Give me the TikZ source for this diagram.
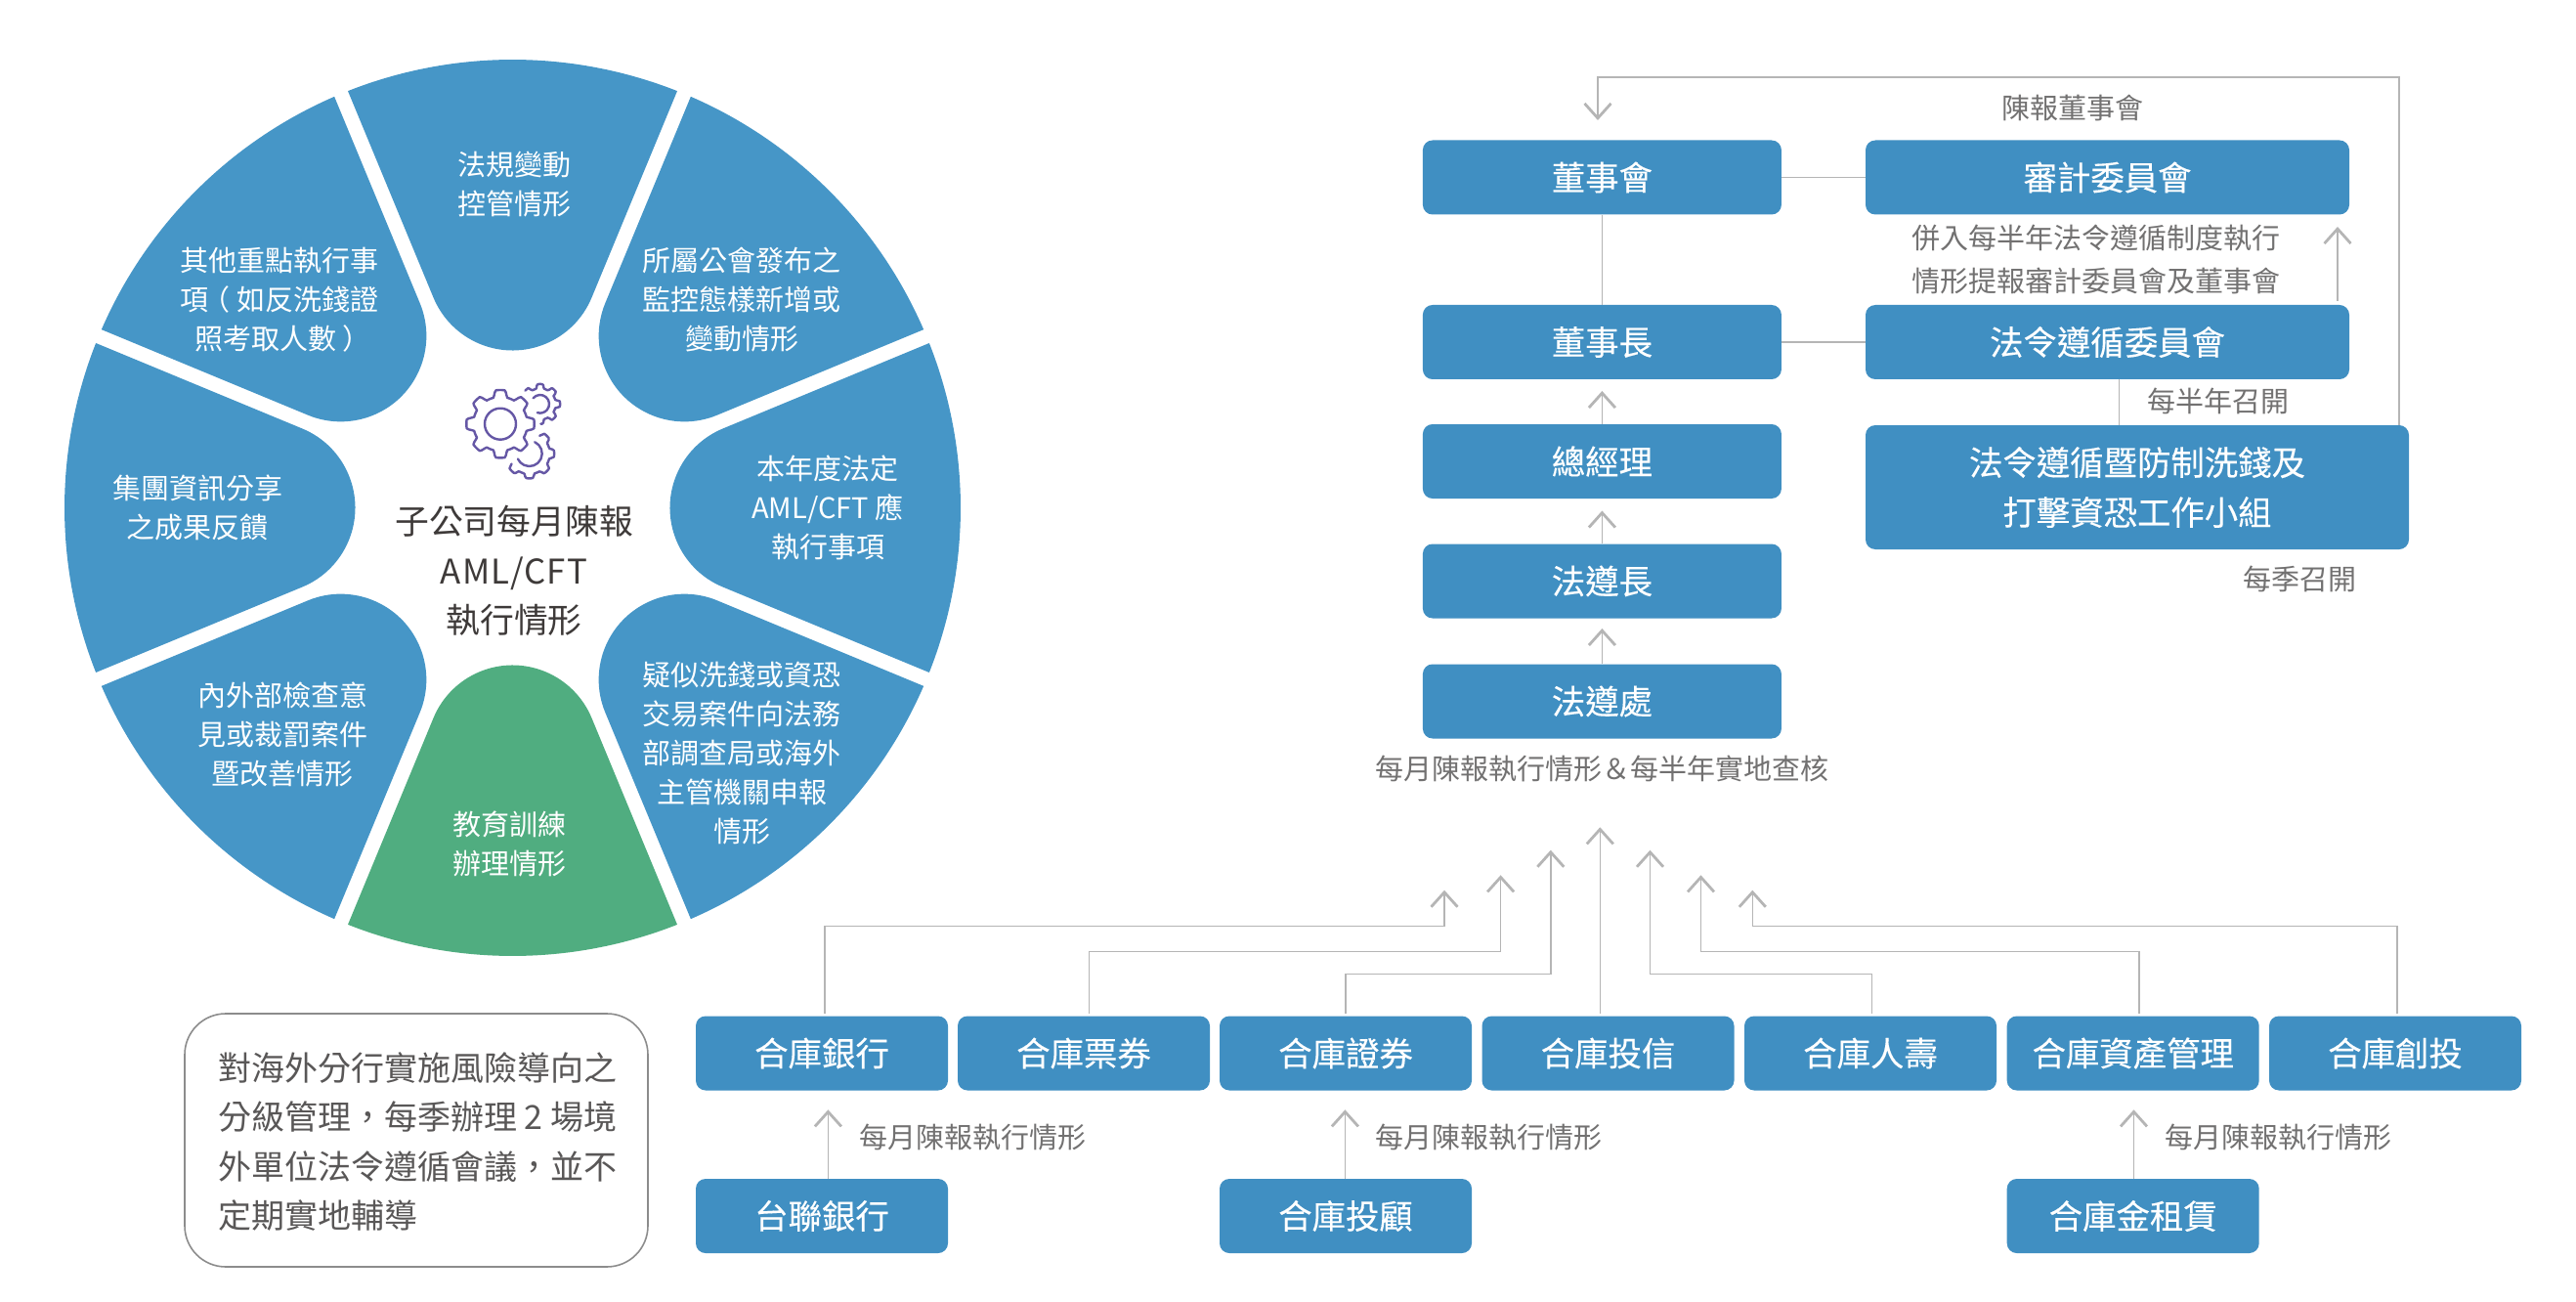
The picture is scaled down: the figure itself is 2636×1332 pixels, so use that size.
\documentclass[tikz,border=0pt]{standalone}
\usepackage{fontspec}
\setmainfont{Noto Sans CJK TC}
\newfontfamily\boxfont[FakeBold=0.2]{Noto Sans CJK TC}
\usetikzlibrary{arrows.meta}
\definecolor{boxblue}{HTML}{408FC2}
\definecolor{petalblue}{HTML}{4696C7}
\definecolor{petalgreen}{HTML}{50AD80}
\definecolor{linegray}{HTML}{B5B5B5}
\definecolor{labelgray}{HTML}{727171}
\definecolor{darktext}{HTML}{3E3A39}
\definecolor{notetext}{HTML}{595757}
\definecolor{notegray}{HTML}{8C8C8C}
\definecolor{gearpurple}{HTML}{6557A5}
\tikzset{
  bluebox/.style={fill=boxblue, rounded corners=5pt, inner sep=0pt, text=white, align=center,
    minimum height=38pt, font=\boxfont\fontsize{17.2}{25.5}\selectfont},
  narrowbox/.style={bluebox, minimum width=129pt},
  mainbox/.style={bluebox, minimum width=183.5pt},
  sidebox/.style={bluebox, minimum width=247.5pt},
  petaltext/.style={text=white, align=center, inner sep=0pt, font=\fontsize{14.5}{20}\selectfont},
  graylabel/.style={text=labelgray, align=center, inner sep=0pt, font=\fontsize{14.5}{22}\selectfont},
  conn/.style={draw=linegray, line width=0.8pt},
  arr/.style={conn, -{Straight Barb[length=7.5pt,width=13.5pt,line width=1.4pt]}},
  gearline/.style={draw=gearpurple, line width=1.2pt, line join=round, line cap=round}
}
\begin{document}
\begin{tikzpicture}[x=0.5pt,y=-0.5pt]
\useasboundingbox (0,0) rectangle (2636,1332);

% wheel petals
\begin{scope}[shift={(524.5,519.5)},y=0.5pt]
  \foreach \a/\c in {0/petalblue,45/petalblue,90/petalblue,135/petalblue,180/petalblue,225/petalblue,270/petalgreen,315/petalblue}{
    \fill[\c,rotate=\a] (21.563:458.5) arc[start angle=21.563,end angle=-21.563,radius=458.5]
      -- (215.14,-81.02) arc[start angle=247.5,end angle=112.5,radius=87.7] -- cycle;
  }
\end{scope}

% petal labels
\node[petaltext] (p1) at (526,188.3) {法規變動\\控管情形};
\node[petaltext] (p2) at (759.4,306.4) {所屬公會發布之\\監控態樣新增或\\變動情形};
\node[petaltext] (p3) at (847,519.5) {本年度法定\\AML/CFT 應\\執行事項};
\node[petaltext] (p4) at (759.4,771) {疑似洗錢或資恐\\交易案件向法務\\部調查局或海外\\主管機關申報\\情形};
\node[petaltext] (p5) at (521.3,863) {教育訓練\\辦理情形};
\node[petaltext] (p6) at (289,751.5) {內外部檢查意\\見或裁罰案件\\暨改善情形};
\node[petaltext] (p7) at (202,519) {集團資訊分享\\之成果反饋};
\node[petaltext] (p8) at (286,307) {其他重點執行事\\項\kern-3.5pt（\kern3.5pt如反洗錢證\\照考取人數\kern3.5pt）\kern-3.5pt};
\node[text=darktext, align=center, inner sep=0pt, font=\fontsize{17.4}{25.4}\selectfont] (center) at (526,584) {子公司每月陳報\\{\addfontfeature{LetterSpace=3}AML/CFT}\\執行情形};

% gears
\begin{scope}[shift={(512,433.7)},y=0.5pt]
  \draw[gearline] plot[samples=145,domain=0:360] (\x:{31.2+3.5*max(-1,min(1,2.5*cos(8*\x)))}) -- cycle;
  \draw[gearline] (0,0) circle[radius=16];
\end{scope}
\begin{scope}[shift={(552.7,413.3)},y=0.5pt]
  \draw[gearline] plot[samples=60,domain=138:-88] (\x:{18.2+2.2*max(-1,min(1,2.5*cos(8*\x)))});
  \draw[gearline] (140:9.3) arc[start angle=140,end angle=-108,radius=9.3];
\end{scope}
\begin{scope}[shift={(541.7,464)},y=0.5pt]
  \draw[gearline] plot[samples=60,domain=60:-150] (\x:{23.2+2.2*max(-1,min(1,2.5*cos(8*\x)))});
  \draw[gearline] (65:13) arc[start angle=65,end angle=-155,radius=13];
\end{scope}

% governance boxes
\node[mainbox] (board) at (1639.4,181.5) {董事會};
\node[mainbox] (chair) at (1639.4,350) {董事長};
\node[mainbox] (gm) at (1639.4,472) {總經理};
\node[mainbox] (cco) at (1639.4,594.5) {法遵長};
\node[mainbox] (dept) at (1639.4,717.5) {法遵處};
\node[sidebox] (audit) at (2156.5,181.5) {審計委員會};
\node[sidebox] (comm) at (2156.5,350) {法令遵循委員會};
\node[bluebox, minimum width=278pt, minimum height=63.5pt] (group) at (2187,498.5) {法令遵循暨防制洗錢及\\打擊資恐工作小組};

% governance connectors
\coordinate (tipChair) at (1639.4,400);
\coordinate (tipGm) at (1639.4,522.5);
\coordinate (tipCco) at (1639.4,643);
\coordinate (tipAudit) at (2392,232);
\coordinate (joinGroup) at (2168.6,410);
\coordinate (fbRight) at (2455,79);
\coordinate (fbLeft) at (1635,79);
\coordinate (tipBoard) at (1635,123);
\draw[conn] (board.east) -- (audit.west);
\draw[conn] (chair.east) -- (comm.west);
\draw[conn] (board.south) -- (chair.north);
\draw[arr] (gm.north) -- (tipChair);
\draw[arr] (cco.north) -- (tipGm);
\draw[arr] (dept.north) -- (tipCco);
\draw[arr, shorten <=2pt] (comm.north -| tipAudit) -- (tipAudit);
\draw[conn] (comm.south -| joinGroup) -- (group.north -| joinGroup);
\draw[arr] (group.north -| fbRight) -- (fbRight) -- (fbLeft) -- (tipBoard);

% governance labels
\node[graylabel] (l1) at (2121,110) {陳報董事會};
\node[graylabel] (l2) at (2145,266) {併入每半年法令遵循制度執行\\情形提報審計委員會及董事會};
\node[graylabel] (l3) at (2270,410) {每半年召開};
\node[graylabel] (l4) at (2353,592) {每季召開};
\node[graylabel] (l5) at (1639,787) {每月陳報執行情形＆每半年實地查核};

% subsidiaries
\node[narrowbox] (bank) at (841,1077.5) {合庫銀行};
\node[narrowbox] (bills) at (1109,1077.5) {合庫票券};
\node[narrowbox] (sec) at (1377,1077.5) {合庫證券};
\node[narrowbox] (fund) at (1645.5,1077.5) {合庫投信};
\node[narrowbox] (life) at (1914,1077.5) {合庫人壽};
\node[narrowbox] (asset) at (2182.7,1077.5) {合庫資產管理};
\node[narrowbox] (vc) at (2451,1077.5) {合庫創投};
\node[narrowbox] (taiwan) at (841,1244) {台聯銀行};
\node[narrowbox] (advisor) at (1377,1244) {合庫投顧};
\node[narrowbox] (lease) at (2182.7,1244) {合庫金租賃};

% subsidiary connectors
\coordinate (bendA) at (1478,947.3);   \coordinate (tipA) at (1478,910.7);
\coordinate (bendB) at (1535.6,973.3); \coordinate (tipB) at (1535.6,895.3);
\coordinate (bendC) at (1586.8,996.3); \coordinate (tipC) at (1586.8,869.7);
\coordinate (tipD) at (1637.3,846.3);
\coordinate (bendE) at (1688.5,996.3); \coordinate (tipE) at (1688.5,869.7);
\coordinate (bendF) at (1740.5,973.3); \coordinate (tipF) at (1740.5,895.3);
\coordinate (bendG) at (1793.3,947.3); \coordinate (tipG) at (1793.3,910.7);
\coordinate (tipT) at (847.4,1135.3);
\coordinate (tipV) at (1376.4,1135.3);
\coordinate (tipL) at (2183.5,1135.3);
\draw[arr, shorten <=1pt] ([xshift=1.5pt]bank.north) |- (bendA) -- (tipA);
\draw[arr, shorten <=1pt] ([xshift=2.7pt]bills.north) |- (bendB) -- (tipB);
\draw[arr, shorten <=1pt] (sec.north) |- (bendC) -- (tipC);
\draw[arr, shorten <=1pt] (fund.north -| tipD) -- (tipD);
\draw[arr, shorten <=1pt] ([xshift=0.75pt]life.north) |- (bendE) -- (tipE);
\draw[arr, shorten <=1pt] ([xshift=3.15pt]asset.north) |- (bendF) -- (tipF);
\draw[arr, shorten <=1pt] ([xshift=1pt]vc.north) |- (bendG) -- (tipG);
\draw[arr] (taiwan.north -| tipT) -- (tipT);
\draw[arr] (advisor.north -| tipV) -- (tipV);
\draw[arr] (lease.north -| tipL) -- (tipL);

\node[graylabel] (m1) at (995.4,1163.7) {每月陳報執行情形};
\node[graylabel] (m2) at (1523.5,1163.7) {每月陳報執行情形};
\node[graylabel] (m3) at (2331.7,1163.7) {每月陳報執行情形};

% note box
\node[draw=notegray, line width=0.8pt, rounded corners=21pt, minimum width=237pt, minimum height=129.5pt, inner sep=0pt] (note) at (426,1166.5) {};
\node[text=notetext, align=left, anchor=west, inner sep=0pt, font=\fontsize{17}{25.3}\selectfont] (notetext) at (223,1168) {對海外分行實施風險導向之\\分級管理，每季辦理 2 場境\\外單位法令遵循會議，並不\\定期實地輔導};
\end{tikzpicture}
\end{document}
